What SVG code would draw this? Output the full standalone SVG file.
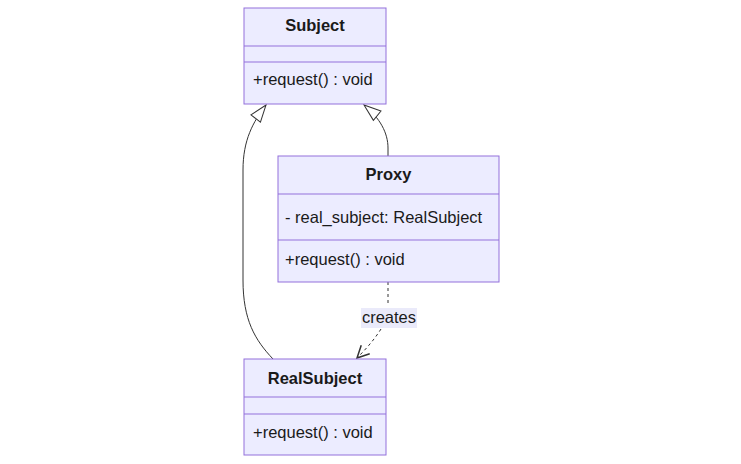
<svg xmlns="http://www.w3.org/2000/svg" width="741" height="464" viewBox="0 0 741 464">
<defs>
<style>
.box{fill:#ECECFF;stroke:#9370DB;stroke-width:1}
.div{stroke:#9370DB;stroke-width:1}
.t{font-family:"Liberation Sans",Arial,sans-serif;font-size:16.5px;fill:#1a1a1a}
.b{font-weight:bold}
.edge{fill:none;stroke:#333;stroke-width:1}
.dash{stroke-dasharray:3,3}
</style>
<marker id="inh" viewBox="0 0 20 20" refX="18" refY="7" markerWidth="20" markerHeight="20" markerUnits="userSpaceOnUse" orient="auto">
<path d="M1,1 L18,7 L1,13 Z" fill="#fff" stroke="#333" stroke-width="1"/>
</marker>
<marker id="dep" viewBox="0 0 20 20" refX="17" refY="7" markerWidth="20" markerHeight="20" markerUnits="userSpaceOnUse" orient="auto">
<path d="M5,1 L17,7 L5,13" fill="none" stroke="#333" stroke-width="1.5"/>
</marker>
</defs>
<rect width="741" height="464" fill="#fff"/>
<g id="connectors">
<path class="edge" d="M273,359 C255,340 243,320 243,280 L243,170 C243,140 253,122 266,105" marker-end="url(#inh)"/>
<path class="edge" d="M388,156 L388,148 C388,133 380,118 364,105" marker-end="url(#inh)"/>
<path class="edge dash" d="M388,282 L388,306"/>
<path class="edge dash" d="M381,329 C374,340 366,349 357,358" marker-end="url(#dep)"/>
<rect x="361" y="308" width="56" height="20" fill="#EAEAFA"/>
<text class="t" x="389" y="323" text-anchor="middle">creates</text>
</g>
<g id="Subject">
<rect class="box" x="244" y="8" width="142" height="96"/>
<line class="div" x1="244" y1="46" x2="386" y2="46"/>
<line class="div" x1="244" y1="62" x2="386" y2="62"/>
<text class="t b" x="315" y="31" text-anchor="middle">Subject</text>
<text class="t" x="253" y="85">+request() : void</text>
</g>
<g id="Proxy">
<rect class="box" x="278" y="156" width="221" height="126"/>
<line class="div" x1="278" y1="194" x2="499" y2="194"/>
<line class="div" x1="278" y1="240" x2="499" y2="240"/>
<text class="t b" x="388.5" y="180" text-anchor="middle">Proxy</text>
<text class="t" x="285" y="223">- real_subject: RealSubject</text>
<text class="t" x="285" y="265">+request() : void</text>
</g>
<g id="RealSubject">
<rect class="box" x="244" y="359" width="142" height="96"/>
<line class="div" x1="244" y1="397" x2="386" y2="397"/>
<line class="div" x1="244" y1="414" x2="386" y2="414"/>
<text class="t b" x="315" y="384" text-anchor="middle">RealSubject</text>
<text class="t" x="253" y="438">+request() : void</text>
</g>
</svg>
